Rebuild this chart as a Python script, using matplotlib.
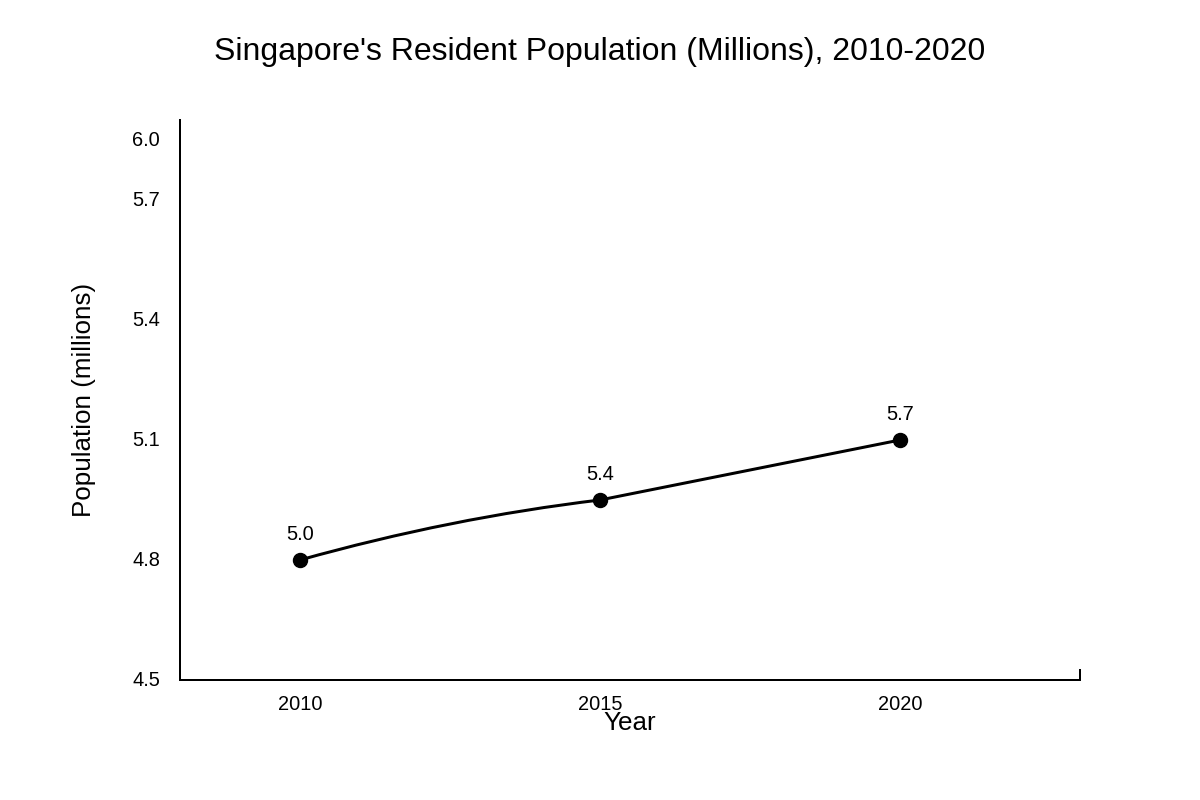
import numpy as np
import matplotlib
matplotlib.use("Agg")
import matplotlib.pyplot as plt
from matplotlib.path import Path
from matplotlib.patches import PathPatch

# --- data ---
years = [2010, 2015, 2020]
y_pos = [4.8, 4.95, 5.1]          # where the points sit on the axis
point_labels = ["5.0", "5.4", "5.7"]
ytick_vals = [4.5, 4.8, 5.1, 5.4, 5.7, 5.85]
ytick_labels = ["4.5", "4.8", "5.1", "5.4", "5.7", "6.0"]
xtick_vals = [2010, 2015, 2020]

plt.rcParams["font.family"] = ["Liberation Sans", "DejaVu Sans"]

PX = 72 / 100  # pixel -> point at dpi 100

fig = plt.figure(figsize=(12, 8), dpi=100)
ax = fig.add_axes([0.15, 0.15, 0.75, 0.70])
ax.set_xlim(2008, 2023)
ax.set_ylim(4.5, 5.9)

# smooth line through the points (cubic bezier per segment)
# bend > 0 bows a segment upward, 0 keeps it straight
seg_bend = [0.4, 0.0]
x = np.array(years, dtype=float)
y = np.array(y_pos, dtype=float)
verts = [(x[0], y[0])]
codes = [Path.MOVETO]
for i in range(len(x) - 1):
    h = x[i + 1] - x[i]
    s = (y[i + 1] - y[i]) / h
    m_out = s * (1 + seg_bend[i])
    m_in = s * (1 - seg_bend[i])
    verts += [(x[i] + h / 3, y[i] + m_out * h / 3),
              (x[i + 1] - h / 3, y[i + 1] - m_in * h / 3),
              (x[i + 1], y[i + 1])]
    codes += [Path.CURVE4] * 3
ax.add_patch(PathPatch(Path(verts, codes), facecolor="none",
                       edgecolor="black", lw=3 * PX, capstyle="round"))

ax.plot(years, y_pos, "o", color="black", ms=14 * PX, zorder=3)
for xv, yv, lab in zip(years, y_pos, point_labels):
    ax.annotate(lab, (xv, yv), xytext=(0, 26 * PX), textcoords="offset points",
                ha="center", va="center", fontsize=20 * PX)

ax.set_xticks(xtick_vals)
ax.set_xticklabels([str(v) for v in xtick_vals])
ax.set_yticks(ytick_vals)
ax.set_yticklabels(ytick_labels)
ax.tick_params(axis="both", length=0, labelsize=20 * PX)
ax.tick_params(axis="x", pad=15 * PX)
ax.tick_params(axis="y", pad=20 * PX)
for lab in ax.get_yticklabels():
    lab.set_va("center")

for s in ["top", "right"]:
    ax.spines[s].set_visible(False)
for s in ["left", "bottom"]:
    ax.spines[s].set_linewidth(2 * PX)
# small outer tick at the right end of the x axis
ax.axvline(ax.get_xlim()[1], ymin=0, ymax=10 / 560, color="black",
           lw=2 * PX, clip_on=False)

ax.set_xlabel("Year", fontsize=26 * PX, labelpad=-2)
ax.set_ylabel("Population (millions)", fontsize=26 * PX, labelpad=36 * PX)

fig.suptitle("Singapore's Resident Population (Millions), 2010-2020",
             fontsize=32 * PX, y=1 - 52 / 800, va="center")

fig.savefig("out.png", dpi=100)
